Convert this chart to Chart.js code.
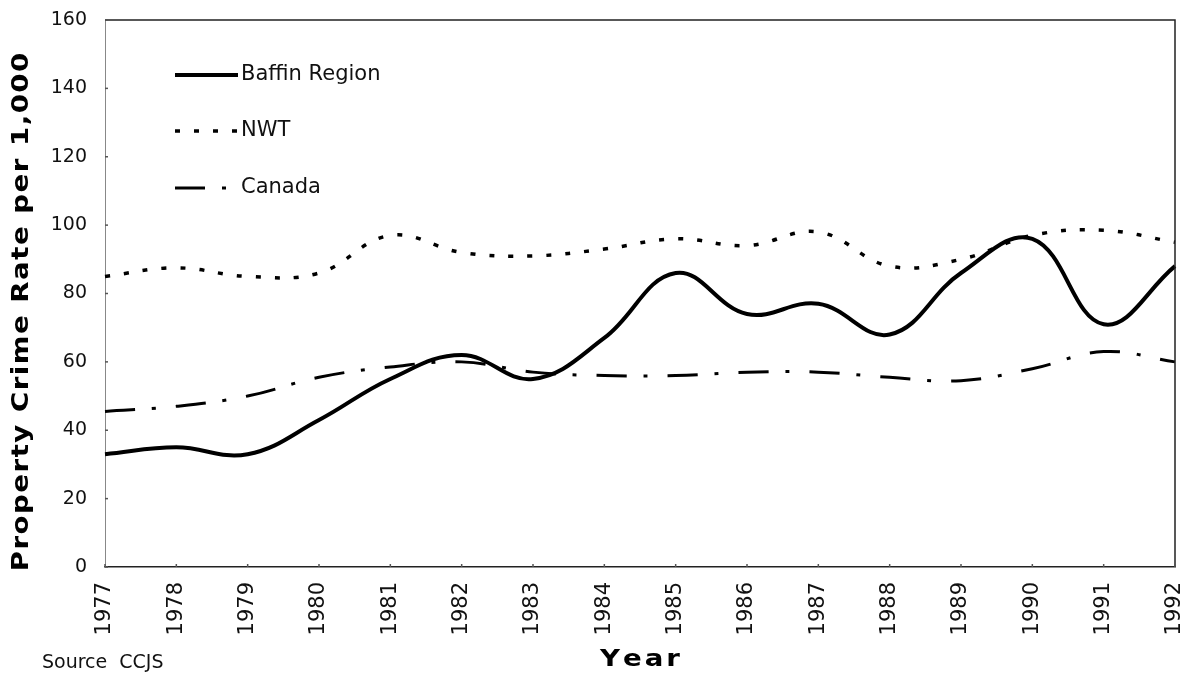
<!DOCTYPE html>
<html>
<head>
<meta charset="utf-8">
<script src="https://cdn.jsdelivr.net/npm/chart.js@4.4.0/dist/chart.umd.min.js"></script>
<style>
  html, body { margin: 0; padding: 0; background: #fff; }
  #wrap { width: 1188px; height: 677px; }
</style>
</head>
<body>
<div id="wrap"><canvas id="crimeChart" width="1188" height="677"></canvas></div>
<script>
// data
var years = ["1977", "1978", "1979", "1980", "1981", "1982", "1983", "1984",
             "1985", "1986", "1987", "1988", "1989", "1990", "1991", "1992"];
var baffin = [33, 35, 33, 43, 55, 62, 55, 67, 86, 74, 77, 68, 86, 96, 71, 88];
var nwt    = [85, 87.5, 85, 86, 97, 92, 91, 93, 96, 94, 98, 88, 90, 97, 98.5, 95];
var canada = [45.5, 47, 50, 55.5, 58.5, 60, 57, 56, 56, 57, 57, 55.5, 54.5, 58, 63, 60];
var seriesNames = ["Baffin Region", "NWT", "Canada"];
var yMin = 0, yMax = 160, yStep = 20;

var yTitle = "Property Crime Rate per 1,000";
var xTitle = "Year";
var sourceNote = "Source  CCJS";

// draw text with extra letter spacing and a little horizontal stretch, centred on x
function spacedText(ctx, text, x, y, spacing, stretch) {
    var widths = [];
    var total = 0;
    for (var i = 0; i < text.length; i++) {
        var w = ctx.measureText(text[i]).width * stretch;
        widths.push(w);
        total += w;
    }
    total += spacing * (text.length - 1);
    var cx = x - total / 2;
    ctx.textAlign = "left";
    for (var j = 0; j < text.length; j++) {
        ctx.save();
        ctx.translate(cx, y);
        ctx.scale(stretch, 1);
        ctx.fillText(text[j], 0, 0);
        ctx.restore();
        cx += widths[j] + spacing;
    }
}

var extras = {
    id: "extras",
    afterDraw: function(chart) {
        var ctx = chart.ctx;
        var a = chart.chartArea;
        var xs = chart.scales.x;
        var ys = chart.scales.y;
        ctx.save();

        // top and right frame
        ctx.strokeStyle = "#222";
        ctx.lineWidth = 1.5;
        ctx.setLineDash([]);
        ctx.beginPath();
        ctx.moveTo(a.left, a.top);
        ctx.lineTo(a.right, a.top);
        ctx.lineTo(a.right, a.bottom);
        ctx.stroke();

        // small inside tick marks
        ctx.lineWidth = 1.5;
        ctx.strokeStyle = "#555";
        ys.ticks.forEach(function(t) {
            var py = ys.getPixelForValue(t.value);
            ctx.beginPath();
            ctx.moveTo(a.left, py);
            ctx.lineTo(a.left + 3, py);
            ctx.stroke();
        });
        years.forEach(function(y, i) {
            var px = xs.getPixelForValue(i);
            ctx.beginPath();
            ctx.moveTo(px, a.bottom);
            ctx.lineTo(px, a.bottom - 3);
            ctx.stroke();
        });

        // legend inside plot
        var rows = [75, 131, 188];
        chart.data.datasets.forEach(function(ds, i) {
            ctx.strokeStyle = "#000";
            ctx.lineWidth = ds.borderWidth;
            ctx.lineCap = "butt";
            ctx.setLineDash(ds.borderDash || []);
            ctx.beginPath();
            ctx.moveTo(175, rows[i]);
            ctx.lineTo(238, rows[i]);
            ctx.stroke();
            ctx.setLineDash([]);
            ctx.fillStyle = "#111";
            ctx.font = "21px 'DejaVu Sans'";
            ctx.textBaseline = "middle";
            ctx.textAlign = "left";
            ctx.fillText(ds.label, 241, rows[i]);
        });

        // axis titles
        ctx.fillStyle = "#000";
        ctx.textBaseline = "middle";
        ctx.font = "bold 23px 'DejaVu Sans'";
        spacedText(ctx, xTitle, 640, 660, 3, 1.2);

        ctx.save();
        ctx.translate(22, 312);
        ctx.rotate(-Math.PI / 2);
        spacedText(ctx, yTitle, 0, 0, 1.5, 1.2);
        ctx.restore();

        // source note
        ctx.font = "19px 'DejaVu Sans'";
        ctx.fillStyle = "#111";
        ctx.textAlign = "left";
        ctx.fillText(sourceNote, 42, 663);

        ctx.restore();
    }
};

var ctx = document.getElementById("crimeChart").getContext("2d");
var crimeChart = new Chart(ctx, {
    type: "line",
    data: {
        labels: years,
        datasets: [
            {
                label: seriesNames[0],
                data: baffin,
                borderColor: "#000",
                borderWidth: 4,
                tension: 0.4,
                pointRadius: 0,
                fill: false
            },
            {
                label: seriesNames[1],
                data: nwt,
                borderColor: "#000",
                borderWidth: 3.5,
                borderDash: [5, 14],
                tension: 0.4,
                pointRadius: 0,
                fill: false
            },
            {
                label: seriesNames[2],
                data: canada,
                borderColor: "#000",
                borderWidth: 3,
                borderDash: [30, 17, 4, 20],
                tension: 0.4,
                pointRadius: 0,
                fill: false
            }
        ]
    },
    options: {
        responsive: false,
        animation: false,
        layout: {
            padding: { left: 51, right: 13, top: 20, bottom: 42 }
        },
        plugins: {
            legend: { display: false },
            tooltip: { enabled: false }
        },
        scales: {
            x: {
                offset: false,
                grid: { display: false, drawTicks: false },
                border: { display: true, color: "#222", width: 1.5 },
                ticks: {
                    minRotation: 90,
                    maxRotation: 90,
                    padding: 15,
                    color: "#111",
                    font: { family: "DejaVu Sans", size: 21 }
                },
                afterFit: function(scale) {
                    scale.height = 68;
                    scale.paddingLeft = 0;
                    scale.paddingRight = 0;
                }
            },
            y: {
                min: yMin,
                max: yMax,
                grid: { display: false, drawTicks: false },
                border: { display: true, color: "#888", width: 1, dash: [2, 5] },
                ticks: {
                    stepSize: yStep,
                    padding: 18,
                    color: "#111",
                    font: { family: "DejaVu Sans", size: 19 }
                },
                afterFit: function(scale) {
                    scale.width = 54;
                    scale.paddingTop = 0;
                    scale.paddingBottom = 0;
                }
            }
        }
    },
    plugins: [extras]
});
</script>
</body>
</html>
